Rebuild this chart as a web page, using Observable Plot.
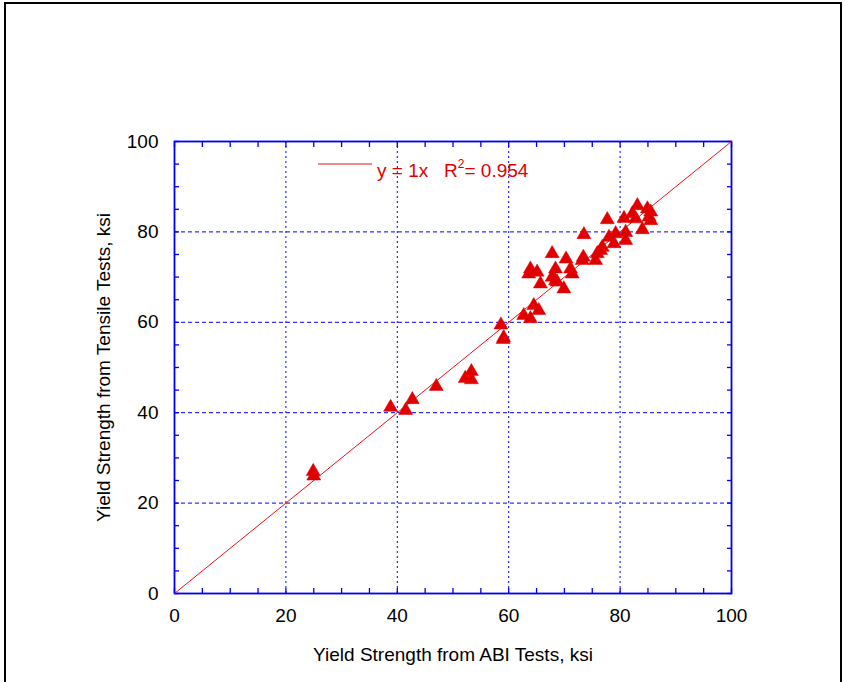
<!DOCTYPE html>
<html>
<head>
<meta charset="utf-8">
<script src="https://cdn.jsdelivr.net/npm/d3@7"></script>
<script src="https://cdn.jsdelivr.net/npm/@observablehq/plot@0.6"></script>
<style>
  html, body { margin: 0; padding: 0; background: #fff; overflow: hidden; }
  #wrap { position: relative; width: 845px; height: 682px; }
  #border { position: absolute; left: 4px; top: 2px; width: 838px; height: 700px;
            border: 2px solid #000; box-sizing: border-box; pointer-events: none; }
  svg { position: absolute; left: 0; top: 0; }
</style>
</head>
<body>
<div id="wrap"><div id="border"></div></div>
<script>
// ABI yield strength (x) vs tensile-test yield strength (y), ksi
const abiYield = [24.9, 25.0, 38.8, 41.5, 42.7, 47.0, 52.2, 53.3, 53.3, 58.6, 59.1, 59.0,
  62.7, 63.9, 64.5, 65.4, 63.9, 63.6, 65.1, 65.7, 67.8, 68.4, 67.8, 68.4, 68.7, 69.9,
  70.3, 71.1, 71.4, 73.2, 73.4, 73.5, 75.6, 75.9, 76.5, 76.8, 77.7, 78.0, 78.9, 79.2,
  80.7, 81.0, 81.0, 82.2, 82.8, 83.1, 84.0, 84.9, 85.2, 85.5, 85.5];
const tensileYield = [27.0, 26.0, 41.2, 40.5, 42.9, 45.8, 47.6, 47.3, 49.1, 59.4, 56.6, 56.2,
  61.5, 60.8, 63.7, 62.6, 71.8, 70.7, 71.1, 68.5, 75.2, 71.8, 70.0, 69.2, 68.9, 67.4,
  74.0, 71.8, 70.7, 73.7, 74.4, 79.4, 73.7, 75.2, 75.9, 76.6, 82.7, 78.8, 77.4, 79.6,
  83.0, 79.9, 78.1, 84.0, 82.9, 85.8, 80.5, 85.1, 83.3, 82.5, 84.4];
const fitX = [0, 100];
const fitSlope = 1;
const rSquared = "0.954";
const majorTicks = [0, 20, 40, 60, 80, 100];
const minorTicks = d3.range(0, 101, 5);
const xTitle = "Yield Strength from ABI Tests, ksi";
const yTitle = "Yield Strength from Tensile Tests, ksi";

const points = abiYield.map((x, i) => ({x, y: tensileYield[i]}));
const fit = fitX.map(x => ({x, y: fitSlope * x}));

const red = "#e00000";
const blue = "#0000ee";
const fs = 19;

const legendMark = (index, scales, values, dims) => {
  const g = d3.create("svg:g");
  const x0 = dims.marginLeft + 144, y0 = dims.marginTop + 23;
  g.append("line").attr("x1", x0).attr("x2", x0 + 54).attr("y1", y0).attr("y2", y0)
    .attr("stroke", "#ee1111").attr("stroke-width", 1);
  const t = g.append("text").attr("x", x0 + 59).attr("y", y0 + 13)
    .attr("fill", red).attr("font-size", fs).attr("text-anchor", "start")
    .attr("xml:space", "preserve").style("white-space", "pre");
  t.append("tspan").text("y = 1x   R");
  t.append("tspan").attr("font-size", 12).attr("dy", -9).text("2");
  t.append("tspan").attr("dy", 9).text("= " + rSquared);
  return g.node();
};

const chart = Plot.plot({
  width: 845,
  height: 682,
  marginLeft: 174,
  marginRight: 114,
  marginTop: 141,
  marginBottom: 89,
  style: {fontFamily: "'Liberation Sans', Arial, sans-serif", fontSize: fs + "px", color: "#000", background: "transparent"},
  x: {domain: [0, 100]},
  y: {domain: [0, 100]},
  marks: [
    Plot.gridX(majorTicks.slice(1, -1), {stroke: blue, strokeOpacity: 1, strokeDasharray: "2,3", strokeWidth: 1}),
    Plot.gridY(majorTicks.slice(1, -1), {stroke: blue, strokeOpacity: 1, strokeDasharray: "4,3", strokeWidth: 1}),
    Plot.axisX(minorTicks, {anchor: "bottom", tickSize: -5, text: null, label: null, stroke: blue, strokeWidth: 1.3}),
    Plot.axisX(minorTicks, {anchor: "top", tickSize: -5, text: null, label: null, stroke: blue, strokeWidth: 1.3}),
    Plot.axisY(minorTicks, {anchor: "left", tickSize: -5, text: null, label: null, stroke: blue, strokeWidth: 1.3}),
    Plot.axisY(minorTicks, {anchor: "right", tickSize: -5, text: null, label: null, stroke: blue, strokeWidth: 1.3}),
    Plot.axisX(majorTicks, {anchor: "bottom", tickSize: 0, tickPadding: 15, label: null, fill: "#000", fontSize: fs}),
    Plot.axisY(majorTicks, {anchor: "left", tickSize: 0, tickPadding: 16, label: null, fill: "#000", fontSize: fs}),
    Plot.frame({stroke: blue, strokeWidth: 1.8}),
    Plot.line(fit, {x: "x", y: "y", stroke: "#ee1111", strokeWidth: 1}),
    Plot.dot(points, {x: "x", y: "y", symbol: "triangle", r: 5.2, fill: red, stroke: red, strokeWidth: 0.5}),
    Plot.text([xTitle], {frameAnchor: "bottom", dy: 67, text: d => d, fontSize: fs, fill: "#000"}),
    Plot.text([yTitle], {frameAnchor: "left", dx: -71, rotate: -90, textAnchor: "middle", text: d => d, fontSize: fs, fill: "#000"}),
    legendMark
  ]
});
document.getElementById("wrap").insertBefore(chart, document.getElementById("border"));
</script>
</body>
</html>
